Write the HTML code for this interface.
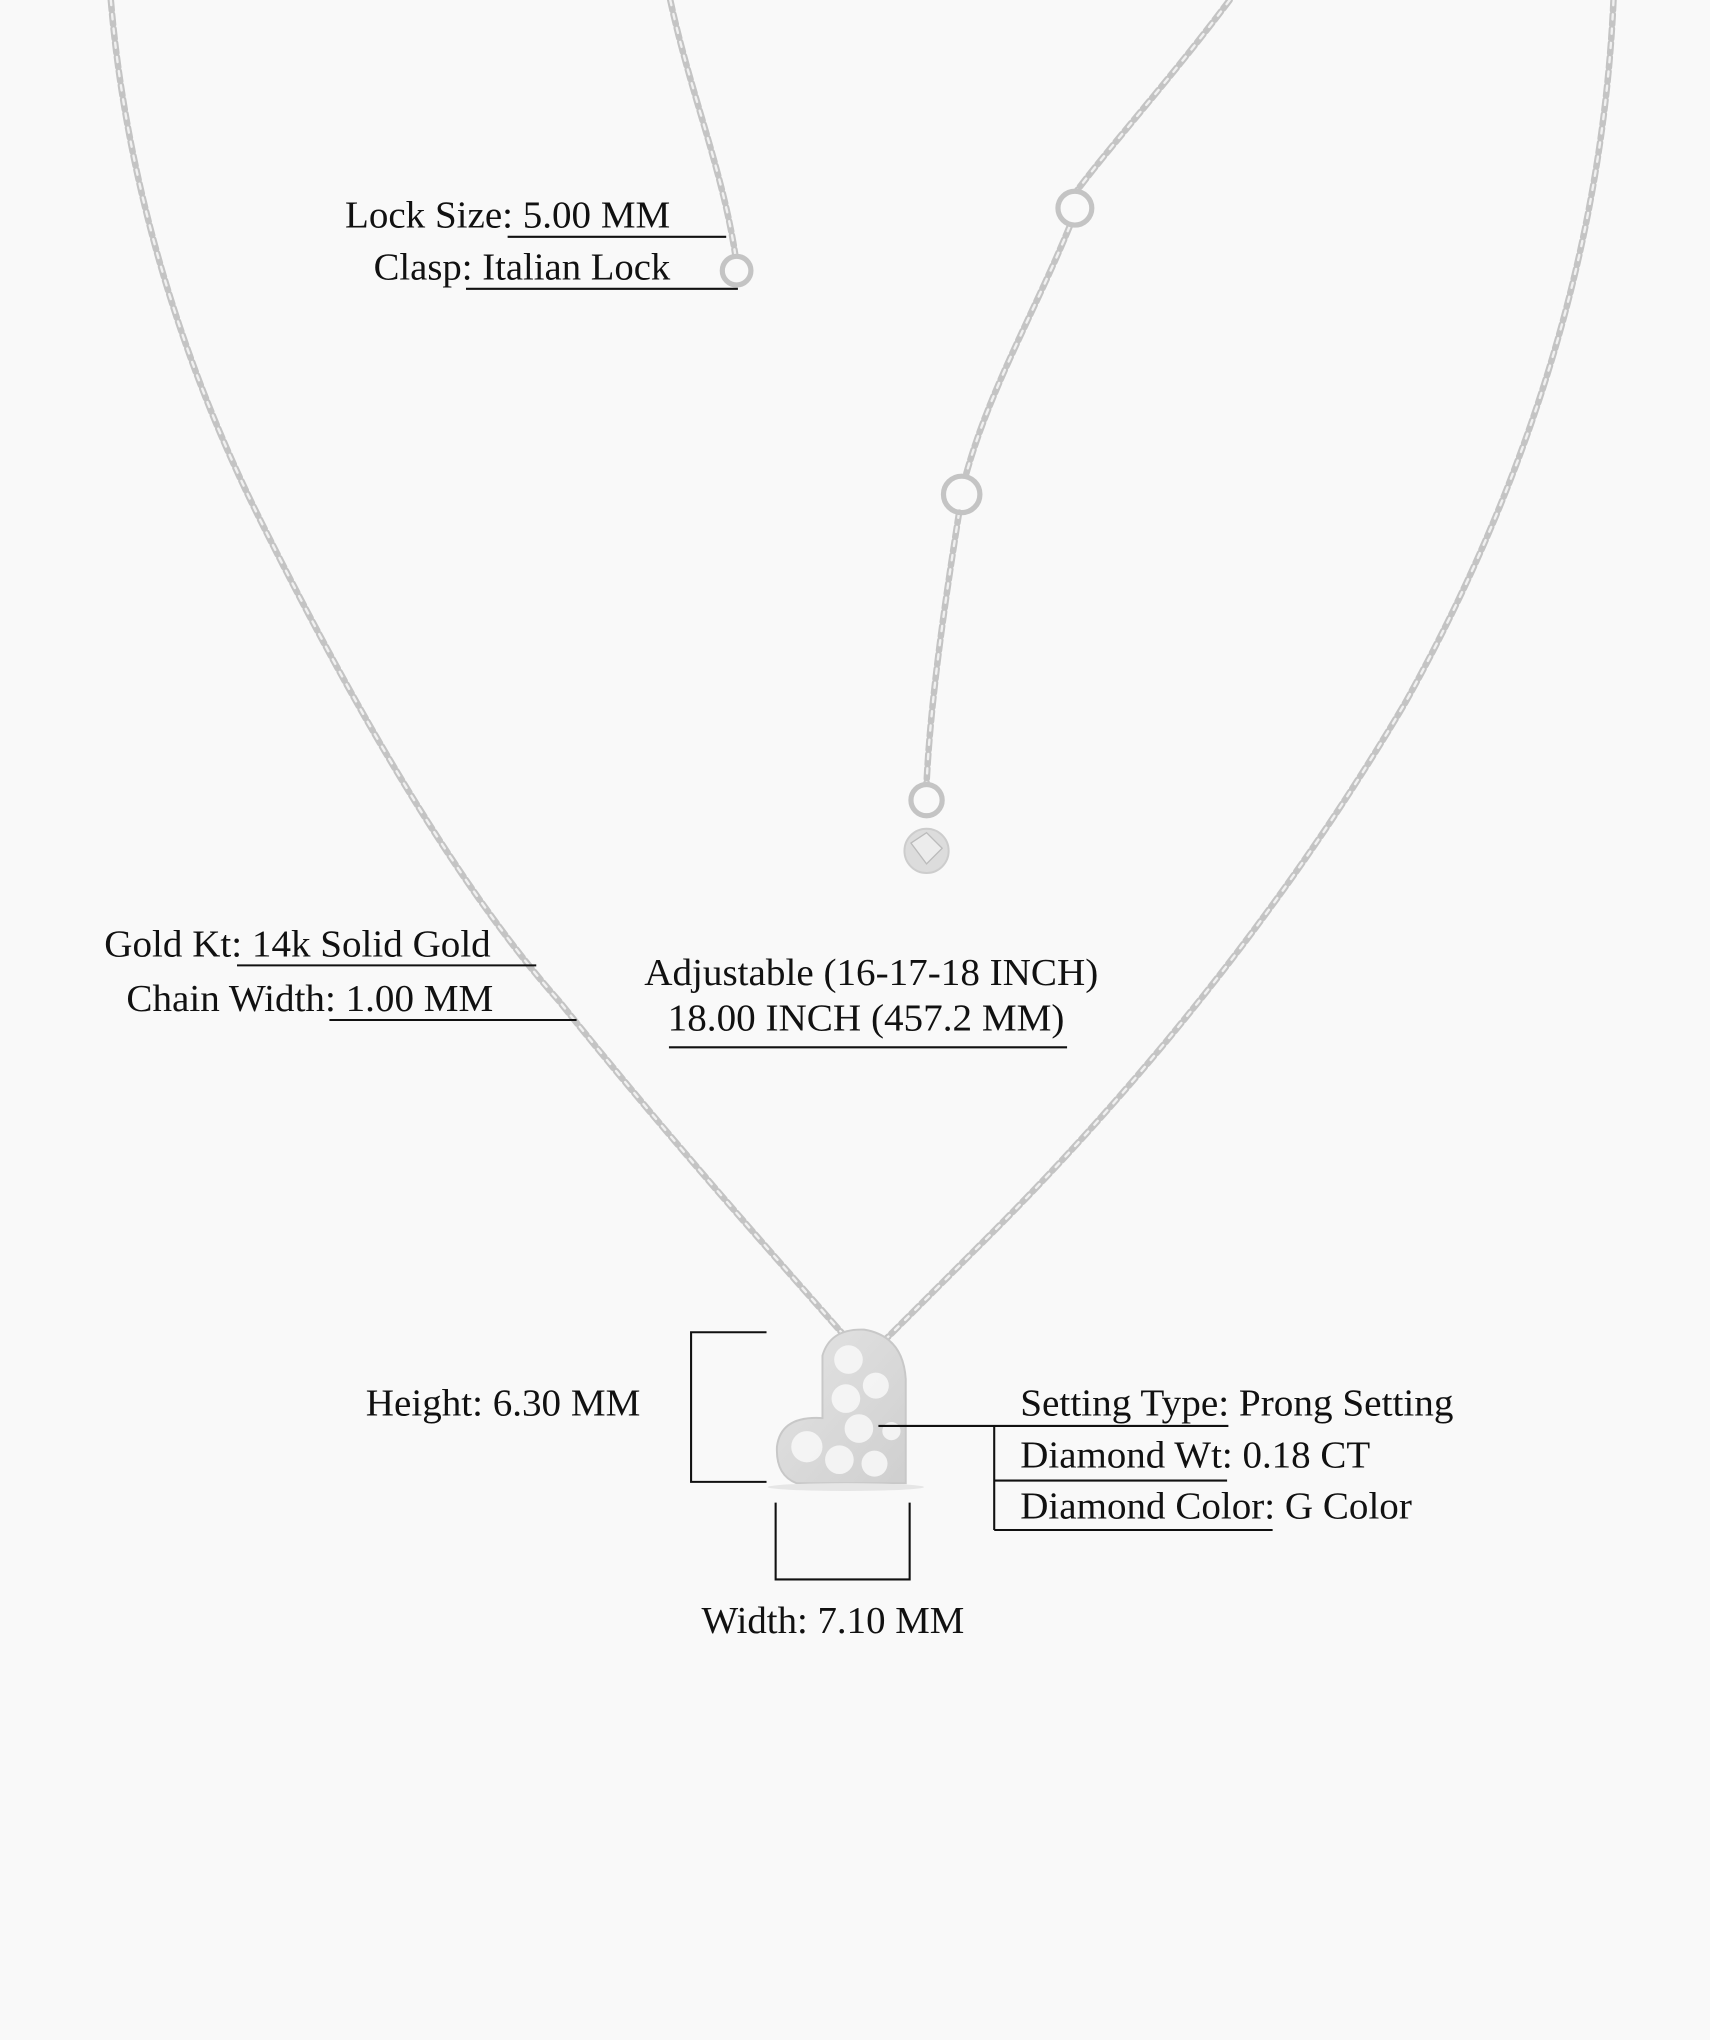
<!DOCTYPE html>
<html><head><meta charset="utf-8"><style>
html,body{margin:0;padding:0;background:#f9f9f9;}
svg{display:block;}
text{font-family:"Liberation Serif",serif;font-size:29px;fill:#111;}
</style></head><body>
<svg width="1710" height="2040" viewBox="0 0 1314 1568" xmlns="http://www.w3.org/2000/svg">
<rect width="1314" height="1568" fill="#f9f9f9"/>
<defs>
<linearGradient id="hg" x1="0" y1="0" x2="1" y2="1"><stop offset="0" stop-color="#e4e4e4"/><stop offset="1" stop-color="#cfcfcf"/></linearGradient>
</defs>
<g fill="none" stroke-linecap="round">
<g stroke="#c4c4c4" stroke-width="5" stroke-dasharray="8 3">
<path d="M85,0 C95,120 130,260 200,400 C270,540 350,680 430,770 C510,870 590,960 650,1028"/>
<path d="M1240,0 C1232,180 1180,360 1080,540 C980,710 860,850 760,950 C720,990 700,1010 680,1030"/>
<path d="M515,0 C530,70 555,130 565,196"/>
<path d="M945,0 C900,60 855,110 828,146"/>
<path d="M822,174 C795,240 760,300 742,366"/>
<path d="M737,394 C725,470 715,540 712,602"/>
</g>
<g stroke="#f0f0f0" stroke-width="1.8" stroke-dasharray="4 7">
<path d="M85,0 C95,120 130,260 200,400 C270,540 350,680 430,770 C510,870 590,960 650,1028"/>
<path d="M1240,0 C1232,180 1180,360 1080,540 C980,710 860,850 760,950 C720,990 700,1010 680,1030"/>
<path d="M515,0 C530,70 555,130 565,196"/>
<path d="M945,0 C900,60 855,110 828,146"/>
<path d="M822,174 C795,240 760,300 742,366"/>
<path d="M737,394 C725,470 715,540 712,602"/>
</g>
<g stroke="#c4c4c4" stroke-width="4">
<circle cx="566" cy="208" r="11"/>
<circle cx="826" cy="160" r="13"/>
<circle cx="739" cy="380" r="14"/>
<circle cx="712" cy="615" r="12"/>
</g>
</g>
<circle cx="712" cy="654" r="17" fill="#dcdcdc" stroke="#cdcdcd" stroke-width="1.5"/>
<path d="M700,648 L712,640 L724,652 L712,664 Z" fill="#ececec" stroke="#bbb" stroke-width="1"/>
<path d="M632,1042 Q638,1021 664,1022 Q694,1027 696,1060 L696,1140 L612,1140 Q596,1134 597,1112 Q600,1088 632,1090 Z" fill="url(#hg)" stroke="#c8c8c8" stroke-width="1.5"/>
<g fill="#f7f7f7" opacity="0.9">
<circle cx="652" cy="1045" r="11"/><circle cx="673" cy="1065" r="10"/><circle cx="650" cy="1075" r="11"/>
<circle cx="660" cy="1098" r="11"/><circle cx="620" cy="1112" r="12"/><circle cx="645" cy="1122" r="11"/>
<circle cx="672" cy="1125" r="10"/><circle cx="685" cy="1100" r="7"/>
</g>
<ellipse cx="650" cy="1143" rx="60" ry="3" fill="#e6e6e6"/>
<g stroke="#111" stroke-width="1.6" fill="none">
<path d="M390,182 H558"/>
<path d="M358,222 H567"/>
<path d="M182,742 H412"/>
<path d="M253,784 H443"/>
<path d="M514,805 H820"/>
<path d="M589,1024 H531 V1139 H589"/>
<path d="M596,1155 V1214 H699 V1155"/>
<path d="M675,1096 H944"/>
<path d="M764,1096 V1176"/>
<path d="M764,1138 H943"/>
<path d="M764,1176 H978"/>
</g>
<text x="265" y="175" textLength="250" lengthAdjust="spacingAndGlyphs">Lock Size: 5.00 MM</text>
<text x="287" y="215" textLength="228" lengthAdjust="spacingAndGlyphs">Clasp: Italian Lock</text>
<text x="80" y="735" textLength="297" lengthAdjust="spacingAndGlyphs">Gold Kt: 14k Solid Gold</text>
<text x="97" y="777" textLength="282" lengthAdjust="spacingAndGlyphs">Chain Width: 1.00 MM</text>
<text x="495" y="757" textLength="349" lengthAdjust="spacingAndGlyphs">Adjustable (16-17-18 INCH)</text>
<text x="513" y="792" textLength="305" lengthAdjust="spacingAndGlyphs">18.00 INCH (457.2 MM)</text>
<text x="281" y="1088" textLength="211" lengthAdjust="spacingAndGlyphs">Height: 6.30 MM</text>
<text x="539" y="1255" textLength="202" lengthAdjust="spacingAndGlyphs">Width: 7.10 MM</text>
<text x="784" y="1088" textLength="333" lengthAdjust="spacingAndGlyphs">Setting Type: Prong Setting</text>
<text x="784" y="1128" textLength="269" lengthAdjust="spacingAndGlyphs">Diamond Wt: 0.18 CT</text>
<text x="784" y="1167" textLength="301" lengthAdjust="spacingAndGlyphs">Diamond Color: G Color</text>
</svg>
</body></html>
